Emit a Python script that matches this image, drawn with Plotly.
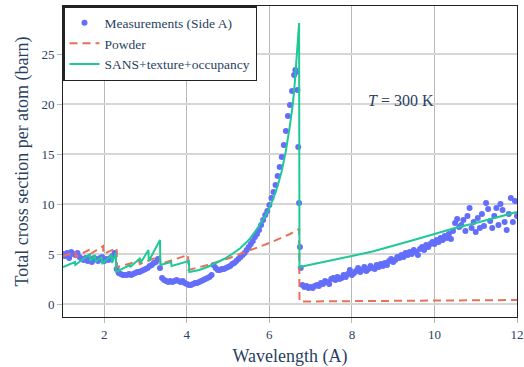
import plotly.graph_objects as go

# ---- Measurements (Side A) ----
meas_lambda = [
    1.00, 1.05, 1.10, 1.15, 1.20, 1.25, 1.30, 1.35, 1.40, 1.45,
    1.50, 1.55, 1.60, 1.65, 1.70, 1.75, 1.80, 1.85, 1.90, 1.95,
    2.00, 2.05, 2.10, 2.15, 2.20, 2.25, 2.30, 2.35, 2.40, 2.45,
    2.50, 2.55, 2.60, 2.65, 2.70, 2.75, 2.80, 2.85, 2.90, 2.95,
    3.00, 3.05, 3.10, 3.15, 3.20, 3.25, 3.30, 3.35, 3.40, 3.45,
    3.50, 3.55, 3.60, 3.65, 3.70, 3.75, 3.80, 3.85, 3.90, 3.95,
    4.00, 4.05, 4.10, 4.15, 4.20, 4.25, 4.30, 4.35, 4.40, 4.45,
    4.50, 4.55, 4.60, 4.65, 4.70, 4.75, 4.80, 4.85, 4.90, 4.95,
    5.00, 5.05, 5.10, 5.15, 5.20, 5.25, 5.30, 5.35, 5.40, 5.45,
    5.50, 5.55, 5.60, 5.65, 5.70, 5.75, 5.80, 5.85, 5.90, 5.95,
    6.00, 6.05, 6.10, 6.15, 6.20, 6.25, 6.30, 6.35, 6.40, 6.45,
    6.50, 6.55, 6.60, 6.63, 6.65, 6.68, 6.70, 6.72, 6.74, 6.76,
    6.80, 6.85, 6.90, 6.95, 7.00, 7.05, 7.10, 7.15, 7.20, 7.25,
    7.30, 7.35, 7.40, 7.45, 7.50, 7.55, 7.60, 7.65, 7.70, 7.75,
    7.80, 7.85, 7.90, 7.95, 8.00, 8.05, 8.10, 8.15, 8.20, 8.25,
    8.30, 8.35, 8.40, 8.45, 8.50, 8.55, 8.60, 8.65, 8.70, 8.75,
    8.80, 8.85, 8.90, 8.95, 9.00, 9.05, 9.10, 9.15, 9.20, 9.25,
    9.30, 9.35, 9.40, 9.45, 9.50, 9.55, 9.60, 9.65, 9.70, 9.75,
    9.80, 9.85, 9.90, 9.95, 10.00, 10.05, 10.10, 10.15, 10.20, 10.25,
    10.30, 10.35, 10.40, 10.45, 10.50, 10.55, 10.60, 10.65, 10.70, 10.75,
    10.80, 10.85, 10.90, 10.95, 11.00, 11.05, 11.10, 11.15, 11.20, 11.25,
    11.30, 11.35, 11.40, 11.45, 11.50, 11.55, 11.60, 11.65, 11.70, 11.75,
    11.80, 11.85, 11.90, 11.95, 12.00,
]
meas_sigma = [
    5.0, 4.8, 5.1, 4.6, 5.2, 5.0, 4.9, 5.1, 4.7, 4.5,
    4.4, 4.6, 4.3, 4.5, 4.2, 4.6, 4.5, 4.3, 4.6, 4.7,
    4.3, 4.5, 4.4, 4.6, 4.8, 5.1, 3.5, 3.1, 3.0, 2.9,
    2.9, 2.9, 3.0, 2.9, 3.0, 3.1, 3.2, 3.2, 3.3, 3.4,
    3.5, 3.6, 3.8, 3.9, 4.1, 4.2, 4.5, 3.6, 2.6, 2.4,
    2.3, 2.2, 2.3, 2.2, 2.3, 2.4, 2.3, 2.2, 2.3, 2.1,
    2.0, 1.9, 1.9, 2.0, 2.1, 2.1, 2.2, 2.3, 2.4, 2.5,
    2.6, 2.7, 2.9, 3.9, 3.6, 3.4, 3.4, 3.5, 3.5, 3.6,
    3.7, 3.8, 4.0, 4.1, 4.3, 4.5, 4.7, 4.9, 5.1, 5.4,
    5.7, 6.0, 6.3, 6.7, 7.0, 7.4, 7.9, 8.4, 8.9, 9.3,
    9.9, 10.6, 11.2, 11.9, 12.8, 13.7, 14.7, 15.9, 17.3, 18.8,
    19.9, 21.3, 22.9, 23.4, 23.2, 21.4, 15.7, 10.1, 5.7, 3.6,
    1.9, 1.7, 1.8, 1.6, 1.7, 1.6, 1.8, 1.9, 1.8, 2.1,
    2.0, 2.3, 2.2, 2.0, 2.5, 2.6, 2.4, 2.7, 2.5, 2.6,
    2.9, 2.7, 3.0, 3.4, 2.9, 3.1, 3.3, 3.6, 3.2, 3.4,
    3.7, 3.3, 3.5, 3.8, 3.6, 3.5, 3.9, 3.7, 4.0, 3.8,
    4.1, 3.9, 4.3, 4.5, 4.2, 4.4, 4.7, 4.6, 4.9, 4.7,
    5.1, 4.9, 5.2, 5.0, 5.4, 5.2, 4.9, 5.5, 5.7, 5.4,
    5.9, 5.7, 6.0, 6.2, 6.0, 6.4, 6.2, 6.6, 6.4, 6.8,
    6.6, 7.0, 6.5, 7.3, 8.1, 8.5, 7.7, 7.9, 8.4, 7.3,
    8.8, 9.6, 7.6, 8.2, 7.2, 8.6, 7.6, 9.0, 7.8, 10.1,
    9.5, 8.3, 7.6, 8.8, 9.6, 7.9, 10.0, 9.4, 8.2, 7.4,
    9.0, 10.6, 8.2, 10.3, 8.8,
]

# ---- Powder model ----
powder_lambda = [1.00, 1.30, 1.31, 1.62, 1.63, 1.97, 1.98, 2.30, 2.31, 2.85,
                 2.86, 3.35, 3.36, 4.03, 4.04, 4.50, 5.00, 5.50, 6.00, 6.50,
                 6.72, 6.73, 9.00, 12.00]
powder_sigma = [4.8, 5.2, 4.7, 5.4, 4.9, 5.8, 5.0, 5.6, 3.7, 4.3,
                4.0, 4.8, 4.0, 4.9, 3.4, 3.9, 4.55, 5.3, 6.1, 7.0,
                7.5, 0.25, 0.3, 0.4]

# ---- SANS+texture+occupancy model ----
sans_lambda = [1.00, 1.29, 1.30, 1.65, 1.66, 1.78, 1.79, 1.94, 1.95, 2.18,
               2.19, 2.28, 2.29, 2.62, 2.63, 2.87, 2.88, 3.07, 3.08, 3.35,
               3.36, 3.62, 3.63, 4.05, 4.06, 4.30, 4.50, 4.70, 4.90, 5.10,
               5.30, 5.50, 5.70, 5.90, 6.00, 6.10, 6.20, 6.30, 6.40, 6.50,
               6.57, 6.62, 6.66, 6.72, 6.73, 7.00, 7.50, 8.00, 8.50, 9.00,
               9.50, 10.00, 10.50, 11.00, 11.50, 12.00]
sans_sigma = [3.7, 4.2, 3.9, 5.0, 4.3, 4.9, 4.2, 4.7, 4.0, 4.9,
              4.1, 5.1, 3.2, 3.9, 3.7, 4.6, 4.1, 5.4, 4.3, 6.4,
              3.9, 4.2, 3.8, 4.3, 3.2, 3.4, 3.7, 4.1, 4.5, 5.0,
              5.6, 6.4, 7.5, 8.8, 9.6, 10.6, 11.8, 13.3, 15.3, 17.9,
              20.0, 22.3, 25.0, 28.1, 3.7, 3.95, 4.35, 4.8, 5.25, 5.8,
              6.4, 7.0, 7.6, 8.1, 8.65, 9.2]

x_ticks = [2, 4, 6, 8, 10, 12]
y_ticks = [0, 5, 10, 15, 20, 25]

SERIF = "Times New Roman, Liberation Serif, serif"
TXT = "#2a3f5f"

fig = go.Figure()
fig.add_trace(go.Scatter(
    x=meas_lambda, y=meas_sigma, mode="markers", name="Measurements (Side A)",
    marker=dict(color="#636efa", size=6, line=dict(width=0)),
))
fig.add_trace(go.Scatter(
    x=powder_lambda, y=powder_sigma, mode="lines", name="Powder",
    line=dict(color="#e8705a", width=2, dash="8px,5px"),
))
fig.add_trace(go.Scatter(
    x=sans_lambda, y=sans_sigma, mode="lines", name="SANS+texture+occupancy",
    line=dict(color="#1fc997", width=2),
))

fig.add_annotation(
    x=9.2, y=20.4, xref="x", yref="y", showarrow=False,
    text="<i>T</i> = 300 K", font=dict(family=SERIF, size=16, color=TXT),
)

fig.update_layout(
    width=524, height=367,
    margin=dict(l=63, r=7, t=6, b=50),
    paper_bgcolor="white", plot_bgcolor="white",
    font=dict(family=SERIF, size=13, color=TXT),
    showlegend=True,
    legend=dict(
        x=0, y=1, xanchor="left", yanchor="top",
        bgcolor="white", bordercolor="#222222", borderwidth=1.5,
        font=dict(family=SERIF, size=13.5, color=TXT),
        itemwidth=30,
    ),
)
fig.update_xaxes(
    range=[1, 12], tickvals=x_ticks,
    tickfont=dict(family=SERIF, size=13, color=TXT),
    title=dict(text="Wavelength (A)", font=dict(family=SERIF, size=18, color=TXT), standoff=10),
    showgrid=True, gridcolor="#b8b8b8", gridwidth=1,
    showline=True, linecolor="#222222", linewidth=1, mirror=True,
    ticks="outside", ticklen=5, tickcolor="#b8b8b8",
    zeroline=False, automargin=False,
)
fig.update_yaxes(
    range=[-1.3, 29.8], tickvals=y_ticks,
    tickfont=dict(family=SERIF, size=13, color=TXT),
    title=dict(text="Total cross section per atom (barn)", font=dict(family=SERIF, size=18, color=TXT), standoff=8),
    showgrid=True, gridcolor="#d6d6d6", gridwidth=2,
    showline=True, linecolor="#222222", linewidth=1, mirror=True,
    ticks="outside", ticklen=5, tickcolor="#b8b8b8",
    zeroline=False, automargin=False,
)

fig.write_html("out.html", config={"displayModeBar": False},
               post_script="document.body.style.margin='0px';")
